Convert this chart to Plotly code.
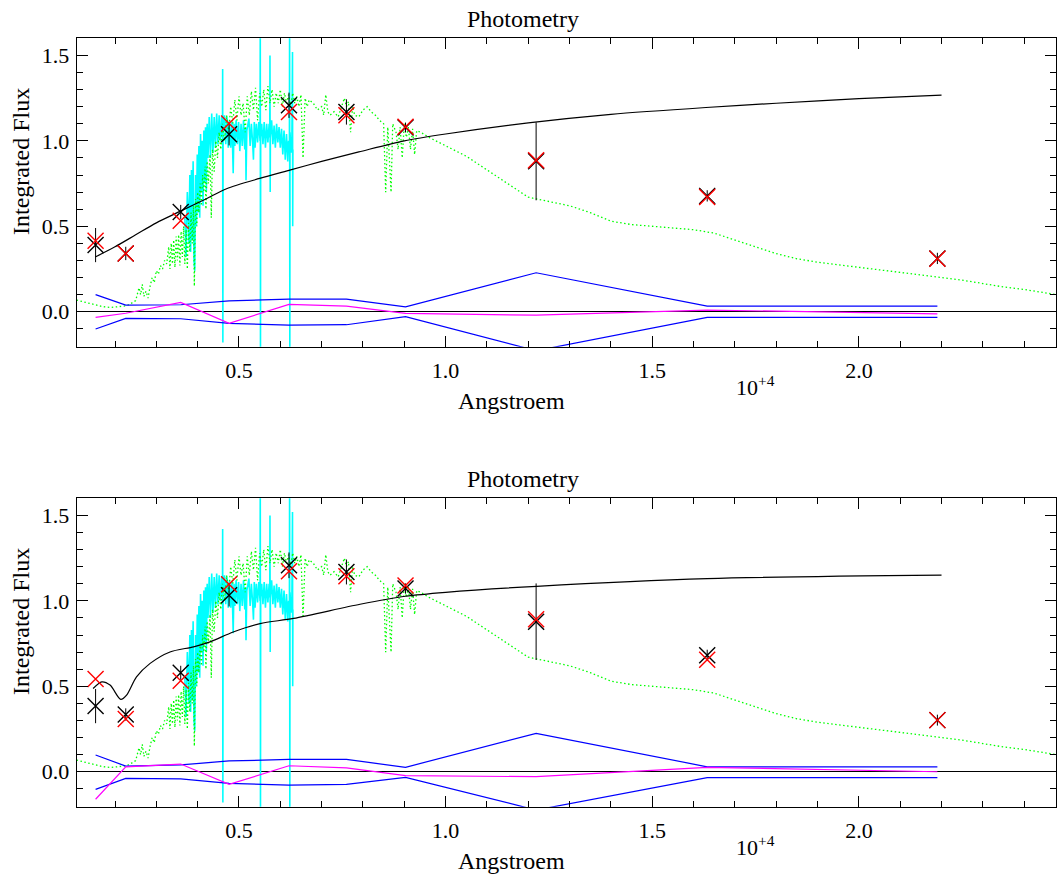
import plotly.graph_objects as go

FONT = "Liberation Serif"
W, H = 1059, 877

# ---------------- data (wavelength in units of 10^4 Angstroem) ----------------
lam = [0.153, 0.226, 0.359, 0.476, 0.621, 0.760, 0.903, 1.219, 1.633, 2.190]

# top panel
obs_top = [0.390, 0.341, 0.584, 1.039, 1.208, 1.169, 1.078, 0.880, 0.678, 0.312]
err_top = [0.100, 0.039, 0.041, 0.066, 0.074, 0.074, 0.029, 0.228, 0.033, 0.033]
mod_top = [0.415, 0.341, 0.532, 1.101, 1.169, 1.150, 1.082, 0.887, 0.672, 0.310]
res_top = [-0.033, -0.009, 0.055, -0.068, 0.043, 0.033, -0.010, -0.020, 0.010, -0.013]
up_top = [0.100, 0.039, 0.041, 0.064, 0.074, 0.074, 0.029, 0.228, 0.033, 0.033]
lo_top = [-0.101, -0.039, -0.041, -0.068, -0.078, -0.076, -0.029, -0.228, -0.033, -0.033]

sed_top_x = [0.152, 0.20, 0.25, 0.30, 0.36, 0.42, 0.47, 0.55, 0.625, 0.70, 0.79, 0.90, 1.00, 1.20, 1.40, 1.63, 1.80, 2.00, 2.20]
sed_top_y = [0.32, 0.38, 0.45, 0.52, 0.59, 0.66, 0.72, 0.78, 0.83, 0.88, 0.935, 1.00, 1.04, 1.105, 1.155, 1.195, 1.22, 1.247, 1.267]

# bottom panel
obs_bot = [0.384, 0.335, 0.579, 1.033, 1.208, 1.169, 1.072, 0.878, 0.682, 0.302]
err_bot = [0.100, 0.036, 0.041, 0.066, 0.075, 0.073, 0.030, 0.224, 0.032, 0.032]
mod_bot = [0.542, 0.308, 0.532, 1.097, 1.173, 1.144, 1.090, 0.892, 0.655, 0.302]
res_bot = [-0.161, 0.029, 0.045, -0.074, 0.035, 0.023, -0.023, -0.029, 0.026, 0.000]
up_bot = [0.098, 0.033, 0.040, 0.063, 0.072, 0.072, 0.026, 0.224, 0.029, 0.029]
lo_bot = [-0.103, -0.039, -0.042, -0.068, -0.078, -0.074, -0.033, -0.224, -0.035, -0.035]

sed_bot_x = [0.147, 0.168, 0.188, 0.214, 0.228, 0.252, 0.285, 0.333, 0.39, 0.43, 0.486, 0.551, 0.632, 0.793, 0.903, 1.00, 1.22, 1.633, 2.20]
sed_bot_y = [0.487, 0.526, 0.507, 0.423, 0.448, 0.555, 0.634, 0.701, 0.731, 0.760, 0.818, 0.867, 0.897, 0.980, 1.027, 1.050, 1.085, 1.130, 1.150]

# observed spectrum (cyan)
spec_x = [0.369, 0.372, 0.375, 0.377, 0.379, 0.381, 0.383, 0.385, 0.387, 0.389, 0.391, 0.393, 0.395, 0.397, 0.399,
          0.401, 0.403, 0.405, 0.407, 0.409, 0.411, 0.413, 0.415, 0.417, 0.419, 0.421, 0.423,
          0.425, 0.428, 0.431, 0.434, 0.437, 0.440, 0.443, 0.446, 0.449, 0.452, 0.455, 0.458,
          0.460, 0.4605, 0.4610, 0.4615, 0.465, 0.468, 0.471, 0.474, 0.477, 0.480, 0.483,
          0.486, 0.488, 0.490, 0.493, 0.496, 0.499, 0.502, 0.505, 0.508, 0.511, 0.514, 0.516,
          0.517, 0.519, 0.521, 0.524, 0.527, 0.530, 0.533, 0.535, 0.537, 0.539, 0.542, 0.545, 0.548, 0.551,
          0.5515, 0.552, 0.5525, 0.555, 0.558, 0.561, 0.564, 0.567, 0.570, 0.573, 0.5745,
          0.575, 0.5755, 0.576, 0.579, 0.582, 0.585, 0.588, 0.591, 0.594, 0.597, 0.600, 0.603,
          0.606, 0.609, 0.612, 0.615, 0.618, 0.620, 0.622, 0.6225, 0.623, 0.6235, 0.626,
          0.628, 0.6295, 0.630, 0.6305]
spec_y = [0.55, 0.32, 0.70, 0.60, 0.40, 0.80, 0.35, 0.83, 0.42, 0.88, 0.30, 0.24, 0.80, 0.50, 0.92,
          0.58, 0.97, 0.55, 1.04, 0.70, 1.00, 0.62, 1.06, 0.76, 1.08, 0.70, 1.10,
          0.90, 1.14, 0.90, 1.16, 0.93, 1.14, 0.96, 1.16, 0.98, 1.15, 1.00, 1.14,
          1.02, 1.42, -0.18, 1.05, 1.15, 0.98, 1.14, 0.96, 1.12, 0.96, 1.11,
          0.81, 1.10, 0.97, 1.12, 0.98, 1.11, 0.94, 1.10, 0.97, 1.12, 0.95, 1.08,
          0.77, 1.06, 1.10, 1.13, 0.97, 1.10, 0.99, 0.89, 1.11, 0.96, 1.10, 0.99, 1.11, 1.00,
          1.75, -0.30, 1.02, 1.10, 0.98, 1.11, 0.96, 1.10, 0.99, 1.10, 1.02,
          1.50, 0.70, 1.02, 1.12, 0.98, 1.09, 0.96, 1.10, 0.99, 1.08, 0.96, 1.07,
          0.92, 1.06, 0.89, 1.04, 0.88, 1.00, 0.93, 1.75, -0.30, 1.05, 0.93,
          1.00, 1.52, 0.50, 0.95]

# model spectrum (green, dotted)
mspec_x = [0.107, 0.13, 0.15, 0.17, 0.19, 0.21, 0.228, 0.24, 0.25, 0.258, 0.262, 0.266, 0.27,
           0.275, 0.28, 0.285, 0.29, 0.295, 0.30, 0.305, 0.31, 0.315, 0.32, 0.325, 0.33, 0.333,
           0.336, 0.339, 0.342, 0.345, 0.348, 0.351, 0.354, 0.357, 0.36, 0.363, 0.366, 0.369,
           0.372, 0.375, 0.378, 0.381, 0.384, 0.387, 0.39, 0.392, 0.395, 0.398, 0.40, 0.403,
           0.406, 0.409, 0.412, 0.415, 0.418, 0.42, 0.423, 0.426, 0.43, 0.433, 0.436, 0.44,
           0.444, 0.448, 0.452, 0.456, 0.46, 0.465, 0.47, 0.475, 0.48, 0.485, 0.49, 0.495,
           0.50, 0.505, 0.51, 0.515, 0.52, 0.525, 0.53, 0.535, 0.54, 0.545, 0.55, 0.555, 0.56,
           0.565, 0.57, 0.575, 0.58, 0.585, 0.59, 0.595, 0.60, 0.605, 0.61, 0.615, 0.62, 0.625,
           0.63, 0.635, 0.64, 0.645, 0.65, 0.655, 0.66, 0.665, 0.67, 0.68, 0.69, 0.70, 0.705,
           0.71, 0.715, 0.72, 0.73, 0.74, 0.745, 0.75, 0.755, 0.76, 0.765, 0.77, 0.775, 0.78,
           0.79, 0.80, 0.81, 0.82, 0.83, 0.84, 0.85, 0.855, 0.86, 0.868, 0.872, 0.88, 0.885,
           0.89, 0.895, 0.90, 0.905, 0.91, 0.915, 0.92, 0.925, 0.93, 0.94, 0.96, 1.00, 1.05,
           1.10, 1.15, 1.20, 1.25, 1.30, 1.35, 1.40, 1.45, 1.50, 1.55, 1.60, 1.65, 1.70, 1.75,
           1.80, 1.85, 1.90, 1.95, 2.00, 2.05, 2.10, 2.15, 2.20, 2.25, 2.30, 2.35, 2.40, 2.45,
           2.478]
mspec_y = [0.068, 0.055, 0.040, 0.030, 0.025, 0.028, 0.035, 0.050, 0.065, 0.140, 0.100, 0.160, 0.090,
           0.120, 0.080, 0.150, 0.200, 0.170, 0.240, 0.220, 0.270, 0.250, 0.300, 0.280, 0.380, 0.250,
           0.400, 0.280, 0.420, 0.260, 0.440, 0.300, 0.450, 0.270, 0.470, 0.320, 0.500, 0.280,
           0.480, 0.250, 0.520, 0.350, 0.580, 0.400, 0.620, 0.150, 0.660, 0.500, 0.700, 0.580,
           0.750, 0.620, 0.800, 0.700, 0.850, 0.600, 0.880, 0.750, 0.920, 0.550, 0.950, 0.820,
           1.000, 0.900, 1.050, 0.950, 1.100, 1.000, 1.150, 1.050, 1.200, 1.100, 1.240, 1.120,
           1.260, 1.150, 1.220, 1.050, 1.260, 1.150, 1.290, 1.180, 1.310, 1.120, 1.280, 1.200, 1.300,
           1.180, 1.320, 1.220, 1.300, 1.200, 1.280, 1.220, 1.300, 1.200, 1.280, 1.220, 1.270, 1.200,
           1.280, 1.220, 1.260, 1.200, 1.270, 0.900, 1.250, 1.200, 1.240, 1.220, 1.180, 1.200, 1.150,
           1.270, 1.170, 1.150, 1.170, 1.140, 1.180, 1.220, 1.250, 1.200, 1.230, 1.050, 1.200, 1.150,
           1.140, 1.180, 1.200, 1.170, 1.150, 1.120, 1.100, 0.700, 1.080, 0.700, 1.100, 1.050, 0.950,
           1.080, 0.900, 1.100, 1.020, 1.080, 0.950, 1.070, 0.920, 1.060, 1.050, 1.020, 0.970, 0.910,
           0.830, 0.750, 0.670, 0.645, 0.620, 0.580, 0.530, 0.510, 0.500, 0.490, 0.480, 0.460, 0.420, 0.380,
           0.340, 0.310, 0.290, 0.275, 0.260, 0.245, 0.230, 0.215, 0.200, 0.185, 0.165, 0.145, 0.130, 0.110,
           0.100]

xrange_ = [0.1073, 2.477]
yrange_ = [-0.2046, 1.60]

# ---------------- figure ----------------
fig = go.Figure()


def add_panel(xa, ya, sed_x, sed_y, obs, err, mod, res, up, lo):
    common = dict(xaxis=xa, yaxis=ya, showlegend=False, hoverinfo="skip")
    fig.add_trace(go.Scatter(x=spec_x, y=spec_y, mode="lines",
                             line=dict(color="#00ffff", width=1.6), **common))
    fig.add_trace(go.Scatter(x=mspec_x, y=mspec_y, mode="lines",
                             line=dict(color="#00ff00", width=1.3, dash="1.5px,2.5px"), **common))
    fig.add_trace(go.Scatter(x=sed_x, y=sed_y, mode="lines",
                             line=dict(color="black", width=1.2, shape="spline", smoothing=0.8), **common))
    fig.add_trace(go.Scatter(x=lam, y=up, mode="lines",
                             line=dict(color="#0000ff", width=1.2), **common))
    fig.add_trace(go.Scatter(x=lam, y=lo, mode="lines",
                             line=dict(color="#0000ff", width=1.2), **common))
    fig.add_trace(go.Scatter(x=lam, y=res, mode="lines",
                             line=dict(color="#ff00ff", width=1.2), **common))
    fig.add_trace(go.Scatter(x=lam, y=obs, mode="markers",
                             marker=dict(symbol="x-thin-open", size=16, color="black",
                                         line=dict(color="black", width=1.4)),
                             error_y=dict(type="data", array=err, visible=True,
                                          color="black", thickness=1, width=0),
                             **common))
    fig.add_trace(go.Scatter(x=lam, y=mod, mode="markers",
                             marker=dict(symbol="x-thin-open", size=16, color="#ff0000",
                                         line=dict(color="#ff0000", width=1.4)),
                             **common))


add_panel("x", "y", sed_top_x, sed_top_y, obs_top, err_top, mod_top, res_top, up_top, lo_top)
add_panel("x2", "y2", sed_bot_x, sed_bot_y, obs_bot, err_bot, mod_bot, res_bot, up_bot, lo_bot)

tickfont = dict(family=FONT, size=22, color="black")


def fx(px):
    return px / W


def fy(py):
    return 1 - py / H


xdom = [fx(76.7), fx(1056.0)]


def xaxis_cfg(anchor):
    return dict(domain=xdom, anchor=anchor, range=xrange_, tickmode="linear", tick0=0, dtick=0.5,
                tickformat=".1f", ticks="inside", ticklen=11, tickwidth=1, tickcolor="black",
                showline=True, linecolor="black", linewidth=1, mirror="ticks",
                showgrid=False, zeroline=False, tickfont=tickfont, ticklabelstandoff=4,
                minor=dict(ticks="inside", ticklen=6, tickwidth=1, tickcolor="black",
                           dtick=0.1, tick0=0, showgrid=False))


def yaxis_cfg(anchor, top_px, bot_px):
    return dict(domain=[fy(bot_px), fy(top_px)], anchor=anchor, range=yrange_,
                tickmode="linear", tick0=0, dtick=0.5, tickformat=".1f",
                ticks="inside", ticklen=11, tickwidth=1, tickcolor="black",
                showline=True, linecolor="black", linewidth=1, mirror="ticks",
                showgrid=False, zeroline=True, zerolinecolor="black", zerolinewidth=1,
                tickfont=tickfont, ticklabelstandoff=2,
                minor=dict(ticks="inside", ticklen=6, tickwidth=1, tickcolor="black",
                           dtick=0.1, tick0=0, showgrid=False))


def ann(text, px, py, size=24, angle=0):
    return dict(text=text, x=fx(px), y=fy(py), xref="paper", yref="paper",
                showarrow=False, textangle=angle, xanchor="center", yanchor="middle",
                font=dict(family=FONT, size=size, color="black"))


annotations = []
for off in (0, 460):
    annotations += [
        ann("Photometry", 523, 19 + off),
        ann("Angstroem", 511, 401 + off),
        ann("10<sup>+4</sup>", 756, 386 + off, size=22),
        ann("Integrated Flux", 21, 162 + off, angle=-90),
    ]

fig.update_layout(
    width=W, height=H,
    margin=dict(l=0, r=0, t=0, b=0, autoexpand=False),
    paper_bgcolor="white", plot_bgcolor="white",
    xaxis=xaxis_cfg("y"), yaxis=yaxis_cfg("x", 38.3, 346.7),
    xaxis2=xaxis_cfg("y2"), yaxis2=yaxis_cfg("x2", 498.3, 806.7),
    annotations=annotations,
    font=dict(family=FONT, color="black"),
)

# remove the default 8 px page margin so the figure fills the window exactly
fig.write_html("out.html",
               config={"displayModeBar": False},
               post_script="document.body.style.margin='0px';document.body.style.overflow='hidden';")
